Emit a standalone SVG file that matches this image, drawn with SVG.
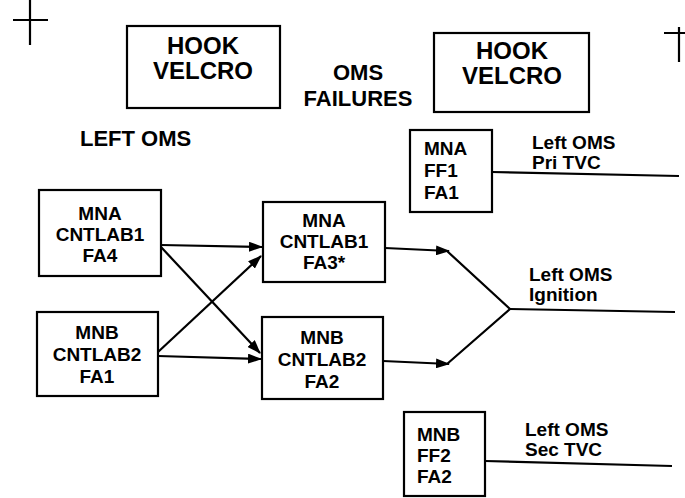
<svg xmlns="http://www.w3.org/2000/svg" width="685" height="498" viewBox="0 0 685 498">
<style>
text{font-family:"Liberation Sans",Arial,sans-serif;font-weight:bold;fill:#000}
.big{font-size:24px}
.mid{font-size:22px}
.sm{font-size:19px}
.c{text-anchor:middle}
.box{fill:none;stroke:#000;stroke-width:2.2}
.ln{fill:none;stroke:#000;stroke-width:2.2}
</style>
<defs>
<marker id="ah" viewBox="0 0 14 10" refX="13" refY="5" markerWidth="14" markerHeight="10" markerUnits="userSpaceOnUse" orient="auto">
<path d="M0,0 L14,5 L0,10 Z" fill="#000"/>
</marker>
</defs>
<rect width="685" height="498" fill="#fff"/>
<g id="crosshairs" class="ln">
<path d="M30,0 V45 M13,20 H48" class="ln"/>
<path d="M679,27 V62 M664,33 H685" class="ln"/>
</g>
<g id="hook-left">
<rect class="box" x="127" y="26" width="153" height="82"/>
<text class="big c" x="203" y="54">HOOK</text>
<text class="big c" x="203" y="79">VELCRO</text>
</g>
<g id="hook-right">
<rect class="box" x="434" y="33" width="155" height="79"/>
<text class="big c" x="512" y="59">HOOK</text>
<text class="big c" x="512" y="84">VELCRO</text>
</g>
<g id="title">
<text class="mid c" x="358" y="80">OMS</text>
<text class="mid c" x="358" y="106">FAILURES</text>
</g>
<g id="left-oms-label">
<text class="mid" x="80" y="146">LEFT OMS</text>
</g>
<g id="pri-tvc">
<rect class="box" x="410" y="130" width="82" height="82"/>
<text class="sm" x="424" y="155">MNA</text>
<text class="sm" x="424" y="177">FF1</text>
<text class="sm" x="424" y="199">FA1</text>
<text class="sm" x="532" y="149">Left OMS</text>
<text class="sm" x="532" y="169">Pri TVC</text>
</g>
<g id="fa4">
<rect class="box" x="39" y="190" width="122" height="86"/>
<text class="sm c" x="100" y="220">MNA</text>
<text class="sm c" x="100" y="241">CNTLAB1</text>
<text class="sm c" x="100" y="262">FA4</text>
</g>
<g id="fa1">
<rect class="box" x="37" y="312" width="121" height="84"/>
<text class="sm c" x="97" y="339">MNB</text>
<text class="sm c" x="97" y="361">CNTLAB2</text>
<text class="sm c" x="97" y="383">FA1</text>
</g>
<g id="fa3">
<rect class="box" x="263" y="202" width="122" height="80"/>
<text class="sm c" x="324" y="227">MNA</text>
<text class="sm c" x="324" y="248">CNTLAB1</text>
<text class="sm c" x="324" y="269">FA3*</text>
</g>
<g id="fa2">
<rect class="box" x="262" y="317" width="121" height="82"/>
<text class="sm c" x="322" y="344">MNB</text>
<text class="sm c" x="322" y="366">CNTLAB2</text>
<text class="sm c" x="322" y="388">FA2</text>
</g>
<g id="ignition">
<text class="sm" x="529" y="281">Left OMS</text>
<text class="sm" x="529" y="301">Ignition</text>
</g>
<g id="sec-tvc">
<rect class="box" x="404" y="412" width="81" height="84"/>
<text class="sm" x="417" y="441">MNB</text>
<text class="sm" x="417" y="462">FF2</text>
<text class="sm" x="417" y="483">FA2</text>
<text class="sm" x="525" y="436">Left OMS</text>
<text class="sm" x="525" y="456">Sec TVC</text>
</g>
<g id="connectors" class="ln">
<path class="ln" d="M492,172 L679,176"/>
<path class="ln" d="M161,245 L262,247" marker-end="url(#ah)"/>
<path class="ln" d="M161,247 L260,353" marker-end="url(#ah)"/>
<path class="ln" d="M158,352 L261,256" marker-end="url(#ah)"/>
<path class="ln" d="M158,356 L261,359" marker-end="url(#ah)"/>
<path class="ln" d="M385,248 L449,251" marker-end="url(#ah)"/>
<path class="ln" d="M383,361 L449,364" marker-end="url(#ah)"/>
<path class="ln" d="M447,251 L510,309 L447,364"/>
<path class="ln" d="M510,309 L675,312"/>
<path class="ln" d="M485,461 L672,466"/>
</g>
</svg>
